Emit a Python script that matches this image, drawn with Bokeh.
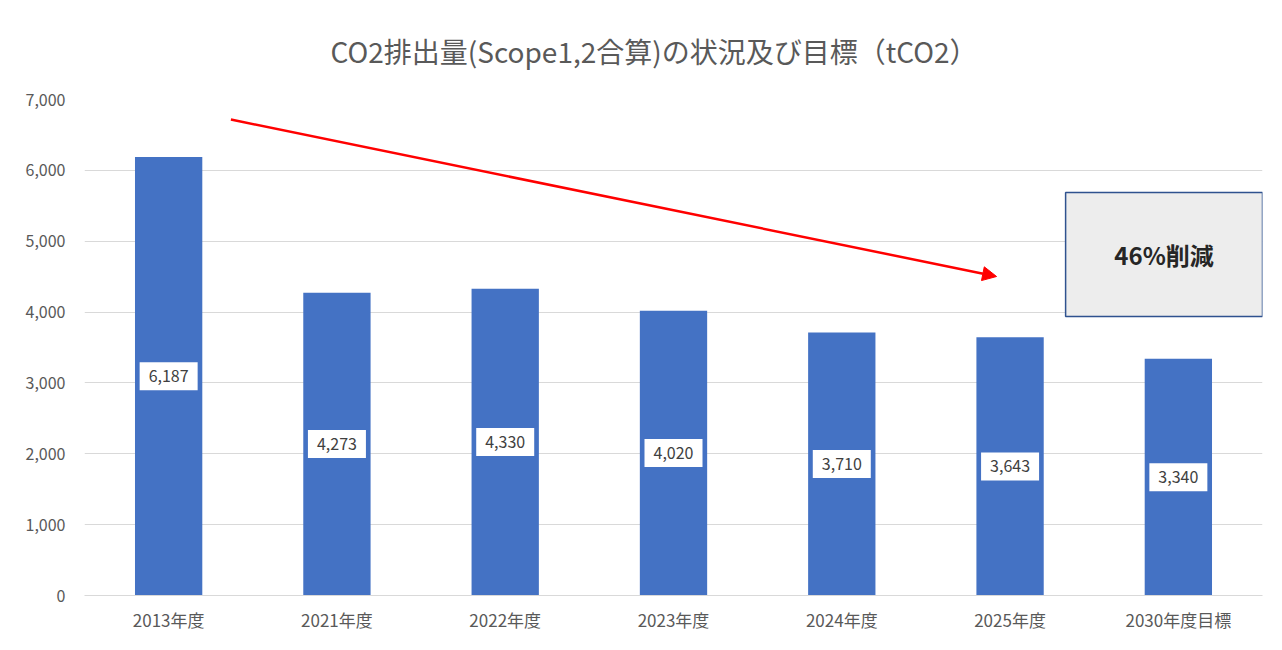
from bokeh.plotting import figure
from bokeh.models import (FactorRange, Range1d, Arrow, NormalHead, BoxAnnotation,
                          Label, NumeralTickFormatter, ColumnDataSource, FixedTicker)
from bokeh.core.properties import value
from bokeh.embed import file_html
from bokeh.resources import INLINE

# ---- data ----
categories = ["2013年度", "2021年度", "2022年度", "2023年度", "2024年度", "2025年度", "2030年度目標"]
emissions = [6187, 4273, 4330, 4020, 3710, 3643, 3340]
y_ticks = [0, 1000, 2000, 3000, 4000, 5000, 6000, 7000]
title_text = "CO2排出量(Scope1,2合算)の状況及び目標（tCO2）"
box_text = "46%削減"

FONT = "Noto Sans CJK JP"
BAR = "#4472C4"
GREY_TXT = "#595959"

src = ColumnDataSource(dict(
    cat=categories,
    val=emissions,
    mid=[v / 2 for v in emissions],
    lab=[f"{v:,}" for v in emissions],
))

p = figure(x_range=FactorRange(*categories, range_padding=0), y_range=Range1d(0, 7000),
           width=1274, height=642, output_backend="svg", toolbar_location=None,
           min_border_left=84, min_border_right=12, min_border_top=99, min_border_bottom=47,
           title=title_text)

p.title.text_font = FONT
p.title.text_font_size = "28px"
p.title.text_font_style = "normal"
p.title.text_color = GREY_TXT
p.title.align = "left"
p.title.offset = 246
p.title.standoff = 57

p.vbar(x="cat", top="val", width=0.4, source=src, fill_color=BAR, line_color=None)

p.rect(x="cat", y="mid", width=58, height=28, width_units="screen", height_units="screen",
       source=src, fill_color="white", line_color=None)
p.text(x="cat", y="mid", text="lab", source=src, text_align="center", text_baseline="middle",
       text_font=value(FONT), text_font_size="16px", text_color="#404040")

# reduction arrow
p.add_layout(Arrow(x_start=0.87, y_start=6717, x_end=5.42, y_end=4502,
                   line_color="#FF0000", line_width=2.5,
                   end=NormalHead(size=14, fill_color="#FF0000", line_color="#FF0000")))

# "46%削減" box
p.add_layout(BoxAnnotation(left=5.83, right=7.0, bottom=3937, top=5687,
                           fill_color="#EDEDED", fill_alpha=1.0,
                           line_color="#2F528F", line_width=1.5, line_alpha=1.0))
p.add_layout(Label(x=6.415, y=4812, text=box_text, text_align="center", text_baseline="middle",
                   text_font=FONT, text_font_size="24px", text_font_style="bold",
                   text_color="#262626"))

# axes & grid
p.xgrid.grid_line_color = None
p.ygrid.grid_line_color = "#D9D9D9"
p.ygrid.grid_line_width = 1
p.outline_line_color = None

p.yaxis.ticker = FixedTicker(ticks=y_ticks)
p.yaxis.formatter = NumeralTickFormatter(format="0,0")
p.yaxis.axis_line_color = None
p.yaxis.major_tick_line_color = None
p.yaxis.minor_tick_line_color = None
p.yaxis.major_label_standoff = 13
p.yaxis.major_label_text_font = FONT
p.yaxis.major_label_text_font_size = "16px"
p.yaxis.major_label_text_color = GREY_TXT

p.xaxis.axis_line_color = "#D9D9D9"
p.xaxis.major_tick_line_color = None
p.xaxis.minor_tick_line_color = None
p.xaxis.major_label_standoff = 5
p.xaxis.major_label_text_font = FONT
p.xaxis.major_label_text_font_size = "17px"
p.xaxis.major_label_text_color = GREY_TXT

open("out.html", "w").write(file_html(p, INLINE))
